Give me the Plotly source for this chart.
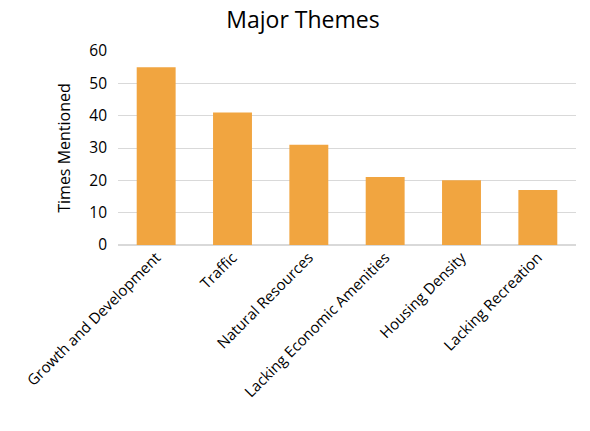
import plotly.graph_objects as go

themes = ['Growth and Development', 'Traffic', 'Natural Resources',
          'Lacking Economic Amenities', 'Housing Density', 'Lacking Recreation']
times_mentioned = [55, 41, 31, 21, 20, 17]
y_ticks = [0, 10, 20, 30, 40, 50, 60]

# the page body adds an 8px offset, so margins are shifted to compensate
fig = go.Figure(layout=go.Layout(
    title=go.layout.Title(text='Major Themes', x=0.5, xanchor='center', y=0.972, yanchor='middle',
                          font=dict(size=23, color='#000000')),
    xaxis=go.layout.XAxis(tickangle=-45, showgrid=False, showline=False, ticks='', automargin=False,
                          tickfont=dict(size=15, color='#000000')),
    yaxis=go.layout.YAxis(title=go.layout.yaxis.Title(text='Times Mentioned', font=dict(size=16, color='#000000'), standoff=14),
                          range=[0, 60], tickvals=y_ticks, showgrid=True, gridcolor='#d9d9d9', gridwidth=1,
                          zeroline=True, zerolinecolor='#d9d9d9', ticks='', ticklabelstandoff=10, automargin=False,
                          tickfont=dict(size=15.5, color='#000000')),
    template='plotly_white',
    font=dict(family='Open Sans, Liberation Sans, sans-serif'),
    width=590, height=431,
    margin=dict(l=110, r=22, t=43, b=194),
    bargap=0.49,
    showlegend=False,
    plot_bgcolor='white', paper_bgcolor='white'
))
fig.add_trace(go.Bar(x=themes, y=times_mentioned, marker=dict(color='#F1A540', line=dict(width=0)),
                     hovertemplate='%{x}: %{y}'))

fig.write_html('out.html')
